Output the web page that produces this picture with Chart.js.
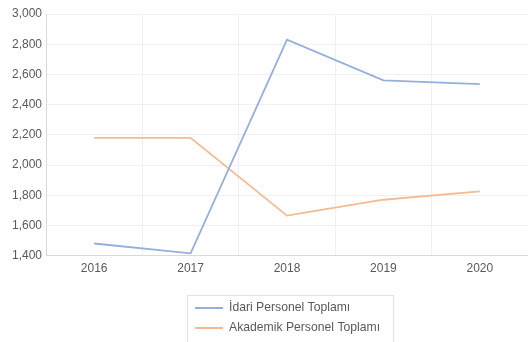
<!DOCTYPE html>
<html>
<head>
<meta charset="utf-8">
<script src="https://cdn.jsdelivr.net/npm/chart.js@4/dist/chart.umd.min.js"></script>
<style>
  html, body { margin: 0; padding: 0; background: #fff; }
  #wrap { width: 528px; height: 342px; }
</style>
</head>
<body>
<div id="wrap"><canvas id="c" width="528" height="342"></canvas></div>
<script>
const years = ['2016', '2017', '2018', '2019', '2020'];
const idariValues = [1480, 1415, 2830, 2560, 2535];
const akademikValues = [2180, 2180, 1665, 1770, 1825];
const seriesNames = ['İdari Personel Toplamı', 'Akademik Personel Toplamı'];

const FONT = '"Liberation Sans", "DejaVu Sans", sans-serif';
const TEXT = '#595959';

// Boxed legend with one series per row, drawn below the plot
const boxedLegend = {
  id: 'boxedLegend',
  afterDraw(chart) {
    const ctx = chart.ctx;
    const x = 187, y = 295, w = 206, h = 52;
    ctx.save();
    ctx.strokeStyle = '#e3e3e3';
    ctx.lineWidth = 1;
    ctx.strokeRect(x + 0.5, y + 0.5, w, h);
    ctx.font = '12.2px ' + FONT;
    ctx.textBaseline = 'middle';
    chart.data.datasets.forEach((ds, i) => {
      const ly = y + 13 + i * 20;
      ctx.strokeStyle = ds.borderColor;
      ctx.lineWidth = 2;
      ctx.beginPath();
      ctx.moveTo(x + 8, ly);
      ctx.lineTo(x + 36, ly);
      ctx.stroke();
      ctx.fillStyle = TEXT;
      ctx.fillText(ds.label, x + 42, ly);
    });
    ctx.restore();
  }
};

new Chart(document.getElementById('c'), {
  type: 'line',
  data: {
    labels: years,
    datasets: [
      {
        label: seriesNames[0],
        data: idariValues,
        borderColor: '#94afdf',
        borderWidth: 1.8,
        pointRadius: 0,
        tension: 0,
        fill: false
      },
      {
        label: seriesNames[1],
        data: akademikValues,
        borderColor: '#f5bb8f',
        borderWidth: 1.8,
        pointRadius: 0,
        tension: 0,
        fill: false
      }
    ]
  },
  options: {
    responsive: false,
    animation: false,
    layout: { padding: { left: 0, right: 0, top: 14, bottom: 60 } },
    plugins: {
      legend: { display: false },
      tooltip: { enabled: false }
    },
    scales: {
      x: {
        offset: true,
        grid: { offset: true, color: '#f0f0f0', drawTicks: false },
        border: { color: '#d9d9d9' },
        ticks: { color: TEXT, font: { family: FONT, size: 12 }, padding: 6 }
      },
      y: {
        min: 1400,
        max: 3000,
        afterFit: scale => { scale.width = 46; },
        ticks: {
          stepSize: 200,
          color: TEXT,
          font: { family: FONT, size: 12 },
          padding: 4,
          callback: v => v.toLocaleString('en-US')
        },
        grid: { color: '#f0f0f0', drawTicks: false },
        border: { color: '#d9d9d9' }
      }
    }
  },
  plugins: [boxedLegend]
});
</script>
</body>
</html>
